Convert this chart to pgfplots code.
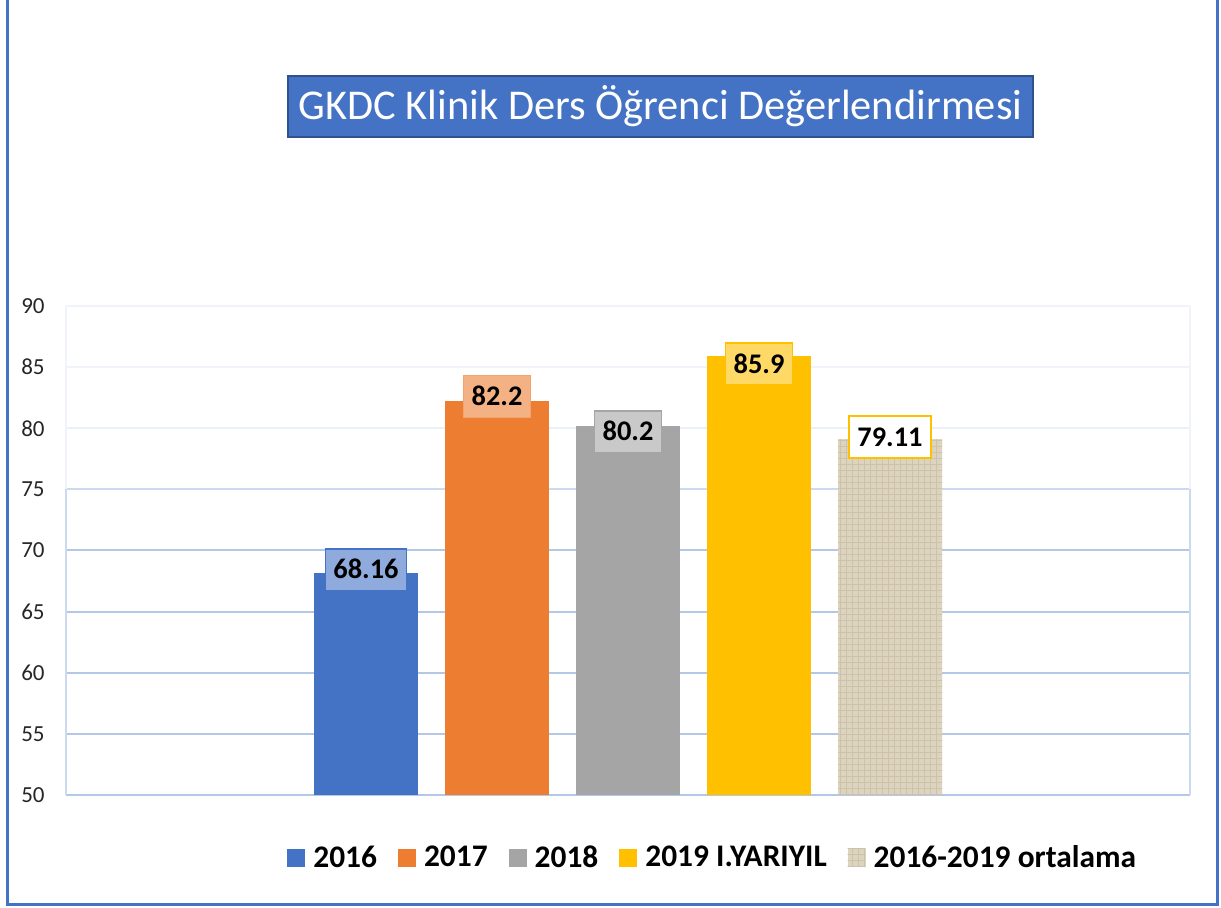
\documentclass[border=0pt]{standalone}
\usepackage{fontspec}
\setmainfont{Carlito}
\usepackage{pgfplots}
\pgfplotsset{compat=1.18}
\usetikzlibrary{patterns}
\definecolor{c16}{HTML}{4472C4}
\definecolor{c17}{HTML}{ED7D31}
\definecolor{c18}{HTML}{A5A5A5}
\definecolor{c19}{HTML}{FFC000}
\definecolor{cav}{HTML}{DDD4BF}
\definecolor{cavd}{HTML}{CDC3AA}
\definecolor{l16}{HTML}{8FAADC}
\definecolor{l17}{HTML}{F4B183}
\definecolor{l18}{HTML}{C9C9C9}
\definecolor{l19}{HTML}{FFD966}
\definecolor{titleborder}{HTML}{2F528F}
\definecolor{gA}{HTML}{B4C7E7}
\definecolor{gB}{HTML}{CCDAF0}
\definecolor{gC}{HTML}{EAF0F9}
\definecolor{gD}{HTML}{F0F3FA}
\definecolor{tickc}{HTML}{262626}
\pgfplotsset{/pgf/number format/assume math mode=true}
\tikzset{lbl/.style={anchor=center, font=\bfseries\fontsize{14.2}{14}\selectfont, text=black,
  text height=9pt, text depth=0pt, inner xsep=4pt, inner ysep=6pt, line width=0.75pt}}
\begin{document}
\begin{tikzpicture}[x=1pt,y=1pt]
\useasboundingbox (0,0) rectangle (610.5,454);
\draw[c16, line width=1.5pt] (3.5,454) -- (3.5,1.5) -- (608.5,1.5) -- (608.5,454);
\node[fill=c16, draw=titleborder, line width=0.75pt, minimum width=372.5pt, minimum height=30.5pt,
  text=white, font=\fontsize{21.2}{24}\selectfont, inner sep=0pt] at (330.25,400.75)
  {GKDC Klinik Ders Öğrenci Değerlendirmesi};
\begin{axis}[at={(33pt,56.5pt)}, anchor=south west, width=562pt, height=244.5pt, scale only axis,
  xmin=-4.29, xmax=4.29, ymin=50, ymax=90, ytick={50,55,...,90}, xtick=\empty,
  axis line style={draw=none}, major tick length=0pt,
  yticklabel style={font=\fontsize{11.5}{12}\selectfont, text=tickc, inner sep=0pt, anchor=east, xshift=-10.5pt},
  clip=false, ybar, bar width=0.794,
  legend columns=5,
  legend style={at={(0.1966,-0.1288)}, anchor=west, draw=none, inner sep=0pt,
    font=\bfseries\fontsize{15.7}{16}\selectfont,
    nodes={inner sep=0pt},
    /tikz/every odd column/.append style={column sep=4pt},
    /tikz/every even column/.append style={column sep=10.5pt}},
  legend image code/.code={\fill[#1] (0pt,-4.5pt) rectangle (9pt,4.5pt);},
]
% grid lines
\draw[gA, line width=1pt] (axis cs:-4.29,50) -- (axis cs:4.29,50);
\draw[gA, line width=1pt] (axis cs:-4.29,55) -- (axis cs:4.29,55);
\draw[gA, line width=1pt] (axis cs:-4.29,60) -- (axis cs:4.29,60);
\draw[gA, line width=1pt] (axis cs:-4.29,65) -- (axis cs:4.29,65);
\draw[gA, line width=1pt] (axis cs:-4.29,70) -- (axis cs:4.29,70);
\draw[gB, line width=1pt] (axis cs:-4.29,75) -- (axis cs:4.29,75);
\draw[gC, line width=1pt] (axis cs:-4.29,80) -- (axis cs:4.29,80);
\draw[gD, line width=1pt] (axis cs:-4.29,85) -- (axis cs:4.29,85);
\draw[gD, line width=1pt] (axis cs:-4.29,90) -- (axis cs:4.29,90);
\draw[gB, line width=1pt] (axis cs:-4.29,50) -- (axis cs:-4.29,75);
\draw[gD, line width=1pt] (axis cs:-4.29,75) -- (axis cs:-4.29,90);
\draw[gB, line width=1pt] (axis cs:4.29,50) -- (axis cs:4.29,75);
\draw[gD, line width=1pt] (axis cs:4.29,75) -- (axis cs:4.29,90);

\addplot[fill=c16, draw=none, bar shift=0pt, nodes near coords,
  every node near coord/.append style={lbl, fill=l16, draw=c16, yshift=1.5pt}]
  coordinates {(-2,68.16)};
\addlegendentry{2016}
\addplot[fill=c17, draw=none, bar shift=0pt, nodes near coords,
  every node near coord/.append style={lbl, fill=l17, draw=c17!70, yshift=2.5pt}]
  coordinates {(-1,82.2)};
\addlegendentry{2017}
\addplot[fill=c18, draw=none, bar shift=0pt, nodes near coords,
  every node near coord/.append style={lbl, fill=l18, draw=c18, yshift=-3pt}]
  coordinates {(0,80.2)};
\addlegendentry{2018}
\addplot[fill=c19, draw=none, bar shift=0pt, nodes near coords,
  every node near coord/.append style={lbl, fill=l19, draw=c19, yshift=-4pt}]
  coordinates {(1,85.9)};
\addlegendentry{2019 I.YARIYIL}
\addplot[fill=cav, draw=none, bar shift=0pt, postaction={pattern=grid, pattern color=cavd},
  nodes near coords,
  every node near coord/.append style={lbl, fill=white, draw=c19, line width=1pt, yshift=1pt}]
  coordinates {(2,79.11)};
\addlegendentry{2016-2019 ortalama}
\end{axis}
\end{tikzpicture}
\end{document}
